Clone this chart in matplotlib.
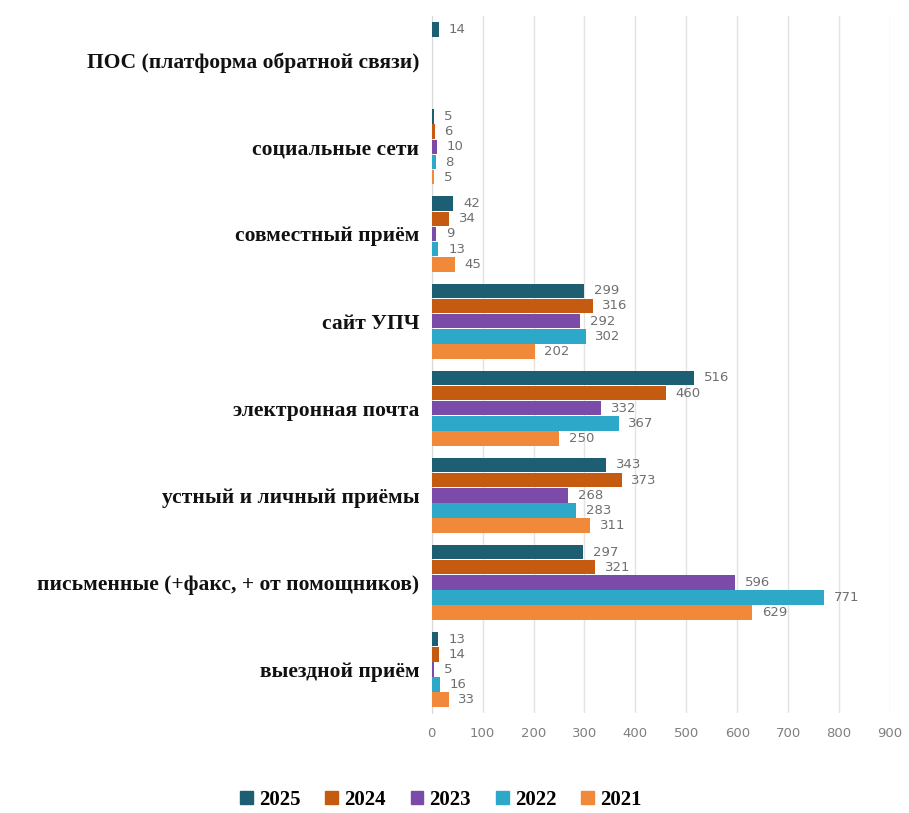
import matplotlib
matplotlib.use("Agg")
import matplotlib.pyplot as plt
import numpy as np

# categories bottom -> top
categories = [
    "выездной приём",
    "письменные (+факс, + от помощников)",
    "устный и личный приёмы",
    "электронная почта",
    "сайт УПЧ",
    "совместный приём",
    "социальные сети",
    "ПОС (платформа обратной связи)",
]
years = ["2025", "2024", "2023", "2022", "2021"]
v2025 = [13, 297, 343, 516, 299, 42, 5, 14]
v2024 = [14, 321, 373, 460, 316, 34, 6, None]
v2023 = [5, 596, 268, 332, 292, 9, 10, None]
v2022 = [16, 771, 283, 367, 302, 13, 8, None]
v2021 = [33, 629, 311, 250, 202, 45, 5, None]
series = [v2025, v2024, v2023, v2022, v2021]
colors = ["#1d5e72", "#c55a11", "#7a4ba8", "#2ea8c9", "#f0893a"]

fig = plt.figure(figsize=(9.09, 8.13), dpi=100)
ax = fig.add_axes([0.475, 0.123, 0.504, 0.857])

n = len(series)
h = 0.174
y = np.arange(len(categories))
for i, (vals, col) in enumerate(zip(series, colors)):
    off = (n - 1) / 2 * h - i * h
    for yi, v in zip(y, vals):
        if v is None:
            continue
        ax.barh(yi + off, v, height=h * 0.96, color=col, zorder=3)
        ax.annotate(str(v), xy=(v, yi + off), xytext=(7, 0),
                    textcoords="offset points", va="center", ha="left",
                    fontsize=9.5, color="#6f6f6f", family="DejaVu Sans")

ax.set_xlim(0, 900)
ax.set_ylim(-0.5, len(categories) - 0.5)
ax.set_xticks(range(0, 901, 100))
ax.set_yticks(y)
ax.set_yticklabels(categories, fontsize=15.5, fontweight="bold",
                   family="Liberation Serif", color="#111111")
ax.tick_params(axis="y", length=0, pad=9)
ax.tick_params(axis="x", length=0, labelsize=9.5, labelcolor="#7f7f7f", pad=10)
ax.grid(axis="x", color="#e3e3e3", linewidth=1, zorder=0)
for s in ["top", "right", "bottom"]:
    ax.spines[s].set_visible(False)
ax.spines["left"].set_color("#d9d9d9")

handles = [plt.Rectangle((0, 0), 1, 1, color=c) for c in colors]
fig.legend(handles, years, loc="center", bbox_to_anchor=(0.485, 0.016),
           ncol=5, frameon=False, handlelength=0.6, handleheight=0.6,
           columnspacing=1.2, handletextpad=0.3,
           prop={"family": "Liberation Serif", "weight": "bold", "size": 15})

fig.savefig("out.png", dpi=100, facecolor="white")
